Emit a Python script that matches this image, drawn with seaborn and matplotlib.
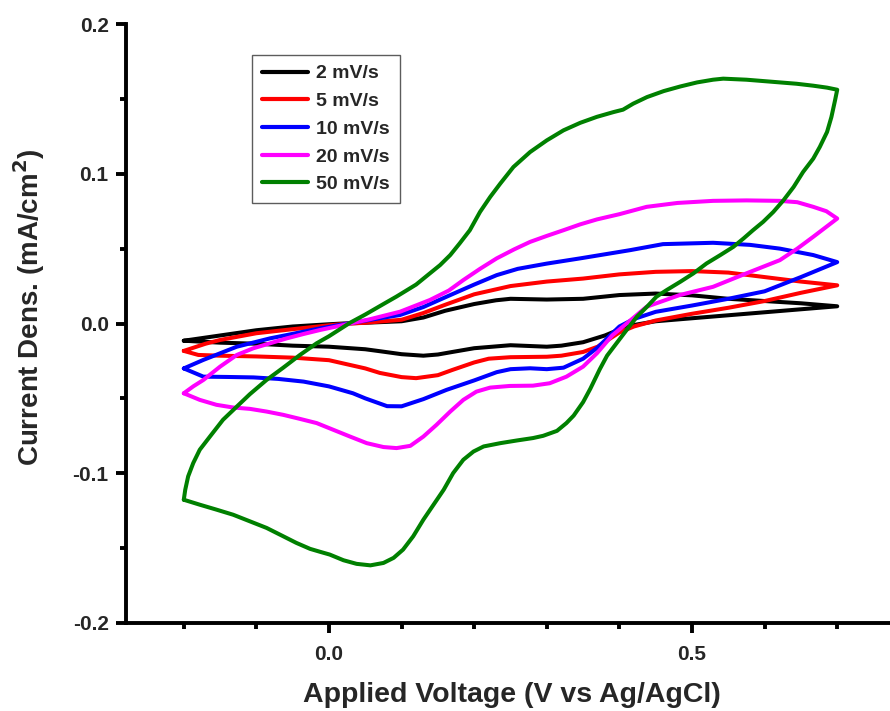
import numpy as np
import pandas as pd
import matplotlib
matplotlib.use("Agg")
import matplotlib.pyplot as plt
from matplotlib.ticker import MultipleLocator, FormatStrFormatter
import seaborn as sns

# Scan rates shown in the legend
rates = ["2 mV/s", "5 mV/s", "10 mV/s", "20 mV/s", "50 mV/s"]
colors = ["#000000", "#ff0000", "#0000ff", "#ff00ff", "#008000"]

# ---- 2 mV/s : anodic sweep (fwd) then cathodic sweep (rev) ----
e2_fwd = [-0.2, -0.15, -0.1, -0.05, 0.0, 0.02, 0.05, 0.1, 0.13, 0.16, 0.2, 0.23, 0.25, 0.3, 0.35, 0.4, 0.45, 0.5, 0.55, 0.6, 0.65, 0.7]
j2_fwd = [-0.0115, -0.008, -0.0045, -0.002, -0.0005, 0.0, 0.0005, 0.0015, 0.004, 0.0085, 0.013, 0.0155, 0.0165, 0.016, 0.0165, 0.019, 0.0200, 0.0188, 0.0165, 0.015, 0.0135, 0.0115]
e2_rev = [0.7, 0.65, 0.6, 0.55, 0.5, 0.45, 0.42, 0.4, 0.38, 0.35, 0.32, 0.3, 0.25, 0.2, 0.17, 0.15, 0.13, 0.1, 0.07, 0.05, 0.0, -0.05, -0.1, -0.15, -0.2]
j2_rev = [0.0115, 0.0095, 0.0075, 0.0055, 0.0035, 0.0015, -0.001, -0.004, -0.008, -0.0125, -0.0148, -0.0155, -0.0145, -0.0165, -0.019, -0.0207, -0.0215, -0.0205, -0.0185, -0.0172, -0.0155, -0.0148, -0.0135, -0.0128, -0.0115]

# ---- 5 mV/s ----
e5_fwd = [-0.2, -0.17, -0.15, -0.1, -0.05, 0.0, 0.02, 0.05, 0.1, 0.13, 0.16, 0.2, 0.25, 0.3, 0.35, 0.4, 0.45, 0.5, 0.55, 0.6, 0.65, 0.7]
j5_fwd = [-0.0183, -0.0135, -0.011, -0.0065, -0.0038, -0.0012, -0.0003, 0.0005, 0.0025, 0.007, 0.0125, 0.0195, 0.025, 0.028, 0.030, 0.0328, 0.0345, 0.035, 0.034, 0.031, 0.028, 0.0255]
e5_rev = [0.7, 0.65, 0.6, 0.55, 0.5, 0.45, 0.42, 0.4, 0.37, 0.35, 0.32, 0.3, 0.25, 0.22, 0.2, 0.17, 0.15, 0.12, 0.1, 0.07, 0.05, 0.0, -0.05, -0.1, -0.15, -0.18, -0.2]
j5_rev = [0.0255, 0.0205, 0.015, 0.0105, 0.0065, 0.002, -0.002, -0.006, -0.0155, -0.019, -0.0215, -0.0222, -0.0225, -0.0235, -0.026, -0.031, -0.0345, -0.0365, -0.0358, -0.033, -0.030, -0.0245, -0.0228, -0.022, -0.0215, -0.021, -0.0183]

# ---- 10 mV/s ----
e10_fwd = [-0.2, -0.173, -0.127, -0.081, -0.058, -0.012, 0.02, 0.07, 0.098, 0.13, 0.162, 0.2, 0.231, 0.26, 0.3, 0.346, 0.415, 0.46, 0.529, 0.58, 0.621, 0.667, 0.7]
j10_fwd = [-0.030, -0.0243, -0.0155, -0.0099, -0.0077, -0.0032, -0.0005, 0.0035, 0.0057, 0.011, 0.0179, 0.026, 0.0323, 0.0365, 0.040, 0.0435, 0.049, 0.0530, 0.0539, 0.0525, 0.050, 0.0457, 0.041]
e10_rev = [0.7, 0.65, 0.6, 0.55, 0.5, 0.45, 0.42, 0.4, 0.37, 0.35, 0.323, 0.3, 0.277, 0.25, 0.231, 0.2, 0.162, 0.13, 0.1, 0.08, 0.05, 0.033, 0.0, -0.035, -0.07, -0.104, -0.14, -0.173, -0.2]
j10_rev = [0.041, 0.031, 0.0215, 0.0165, 0.012, 0.0078, 0.003, -0.002, -0.016, -0.0235, -0.0295, -0.0305, -0.0299, -0.0305, -0.0325, -0.038, -0.0443, -0.0505, -0.0553, -0.0552, -0.050, -0.0466, -0.042, -0.0388, -0.037, -0.036, -0.0357, -0.0355, -0.030]

# ---- 20 mV/s ----
e20_fwd = [-0.2, -0.187, -0.173, -0.15, -0.127, -0.104, -0.081, -0.058, -0.035, -0.012, 0.02, 0.056, 0.098, 0.139, 0.165, 0.185, 0.208, 0.231, 0.255, 0.277, 0.3, 0.323, 0.346, 0.369, 0.4, 0.4375, 0.48, 0.529, 0.575, 0.621, 0.645, 0.667, 0.685, 0.7]
j20_fwd = [-0.0466, -0.042, -0.0377, -0.0288, -0.021, -0.0165, -0.0132, -0.0099, -0.007, -0.0043, -0.001, 0.0028, 0.0079, 0.0157, 0.022, 0.029, 0.0365, 0.0435, 0.0495, 0.0545, 0.0585, 0.0623, 0.0662, 0.0695, 0.073, 0.0779, 0.0805, 0.0819, 0.0822, 0.0819, 0.081, 0.0779, 0.075, 0.0701]
e20_rev = [0.7, 0.667, 0.645, 0.621, 0.575, 0.529, 0.483, 0.4375, 0.41, 0.39, 0.369, 0.35, 0.327, 0.304, 0.281, 0.249, 0.222, 0.203, 0.185, 0.167, 0.148, 0.13, 0.112, 0.093, 0.075, 0.052, 0.029, 0.006, -0.017, -0.04, -0.063, -0.086, -0.109, -0.132, -0.155, -0.178, -0.2]
j20_rev = [0.0701, 0.0579, 0.050, 0.0423, 0.0335, 0.0245, 0.019, 0.0112, 0.0, -0.008, -0.0199, -0.0288, -0.0355, -0.0399, -0.0415, -0.0417, -0.0428, -0.0455, -0.051, -0.0588, -0.0677, -0.0755, -0.0817, -0.0832, -0.0825, -0.0799, -0.0755, -0.071, -0.0665, -0.0637, -0.061, -0.0588, -0.057, -0.0561, -0.0543, -0.051, -0.0466]

# ---- 50 mV/s ----
e50_fwd = [-0.2, -0.198, -0.194, -0.187, -0.178, -0.164, -0.146, -0.127, -0.109, -0.086, -0.063, -0.04, -0.017, 0.0, 0.029, 0.05, 0.075, 0.093, 0.12, 0.139, 0.153, 0.167, 0.18, 0.194, 0.208, 0.222, 0.236, 0.254, 0.277, 0.3, 0.323, 0.346, 0.369, 0.392, 0.405, 0.419, 0.438, 0.461, 0.484, 0.507, 0.529, 0.543, 0.575, 0.598, 0.621, 0.644, 0.667, 0.686, 0.7]
j50_fwd = [-0.1177, -0.111, -0.1021, -0.0932, -0.0843, -0.0755, -0.0643, -0.0555, -0.0472, -0.0377, -0.0295, -0.021, -0.0132, -0.0085, 0.0005, 0.006, 0.013, 0.018, 0.026, 0.0335, 0.039, 0.0457, 0.0535, 0.0623, 0.0745, 0.0845, 0.0935, 0.1045, 0.1145, 0.1223, 0.129, 0.1340, 0.1380, 0.1412, 0.1428, 0.1468, 0.1512, 0.1552, 0.1583, 0.161, 0.1628, 0.1635, 0.1628, 0.1619, 0.161, 0.1601, 0.1588, 0.1575, 0.1561]
e50_rev = [0.7, 0.697, 0.692, 0.686, 0.676, 0.667, 0.653, 0.64, 0.626, 0.612, 0.598, 0.584, 0.571, 0.557, 0.539, 0.52, 0.502, 0.484, 0.465, 0.451, 0.438, 0.424, 0.41, 0.396, 0.383, 0.373, 0.36, 0.35, 0.337, 0.327, 0.314, 0.295, 0.281, 0.259, 0.236, 0.213, 0.199, 0.185, 0.171, 0.158, 0.144, 0.13, 0.116, 0.102, 0.089, 0.075, 0.057, 0.038, 0.02, 0.001, -0.012, -0.026, -0.045, -0.063, -0.086, -0.109, -0.132, -0.155, -0.178, -0.2]
j50_rev = [0.1561, 0.149, 0.1379, 0.1279, 0.1179, 0.1101, 0.1012, 0.0912, 0.0823, 0.0745, 0.0679, 0.0623, 0.0568, 0.0512, 0.0457, 0.0401, 0.0335, 0.0279, 0.0223, 0.0179, 0.0112, 0.0045, -0.0043, -0.0132, -0.0215, -0.0305, -0.0435, -0.0525, -0.0615, -0.0665, -0.0717, -0.075, -0.0765, -0.0781, -0.0799, -0.0821, -0.0855, -0.091, -0.0999, -0.111, -0.121, -0.131, -0.1421, -0.151, -0.1565, -0.1599, -0.1615, -0.1605, -0.1581, -0.1543, -0.1525, -0.1505, -0.1465, -0.1421, -0.1365, -0.1321, -0.1277, -0.1243, -0.121, -0.1177]

scans = [
    (e2_fwd + e2_rev, j2_fwd + j2_rev),
    (e5_fwd + e5_rev, j5_fwd + j5_rev),
    (e10_fwd + e10_rev, j10_fwd + j10_rev),
    (e20_fwd + e20_rev, j20_fwd + j20_rev),
    (e50_fwd + e50_rev, j50_fwd + j50_rev),
]

frames = []
for rate, (e, j) in zip(rates, scans):
    frames.append(pd.DataFrame({"E": e, "J": j, "rate": rate}))
df = pd.concat(frames, ignore_index=True)

sns.set_style("ticks")
plt.rcParams["font.family"] = ["Liberation Sans", "DejaVu Sans"]
plt.rcParams["font.weight"] = "bold"
plt.rcParams["axes.labelweight"] = "bold"
plt.rcParams["mathtext.default"] = "bf"

fig = plt.figure(figsize=(8.9, 7.11), dpi=100)
ax = fig.add_axes([126 / 890, 88 / 711, 764 / 890, 599 / 711])

sns.lineplot(data=df, x="E", y="J", hue="rate", hue_order=rates,
             palette=dict(zip(rates, colors)), sort=False, estimator=None,
             linewidth=2.9, ax=ax)
for line in ax.get_lines():
    line.set_solid_joinstyle("round")
    line.set_solid_capstyle("round")

ax.set_xlim(-0.2796, 0.7727)
ax.set_ylim(-0.2, 0.2)
ax.xaxis.set_major_locator(MultipleLocator(0.5))
ax.xaxis.set_minor_locator(MultipleLocator(0.1))
ax.yaxis.set_major_locator(MultipleLocator(0.1))
ax.yaxis.set_minor_locator(MultipleLocator(0.05))
ax.xaxis.set_major_formatter(FormatStrFormatter("%.1f"))
ax.yaxis.set_major_formatter(FormatStrFormatter("%.1f"))

for side in ["top", "right"]:
    ax.spines[side].set_visible(False)
for side in ["left", "bottom"]:
    ax.spines[side].set_linewidth(2.8)
    ax.spines[side].set_color("black")

ax.tick_params(which="major", direction="out", length=7.5, width=2.8,
               labelsize=15, color="black")
ax.tick_params(axis="x", which="major", pad=8)
ax.tick_params(axis="y", which="major", pad=5)
ax.tick_params(which="minor", direction="out", length=4.5, width=2.8, color="black")
for lab in ax.get_xticklabels() + ax.get_yticklabels():
    lab.set_fontweight("bold")

ax.set_xlabel("Applied Voltage (V vs Ag/AgCl)", fontsize=20.5, fontweight="bold")
ax.set_ylabel("Current Dens. (mA/cm$^2$)", fontsize=20, fontweight="bold")
ax.xaxis.set_label_coords(0.505, -0.098)
ax.yaxis.set_label_coords(-0.103, 0.527)

leg = ax.legend(loc="upper left", bbox_to_anchor=((252 - 126) / 764, (623 - 55) / 599),
                borderaxespad=0, frameon=True, fancybox=False, handlelength=2.4,
                handletextpad=0.4, labelspacing=0.52, borderpad=0.5,
                prop={"weight": "bold", "size": 14}, title=None)
leg.get_frame().set_edgecolor("#333333")
leg.get_frame().set_linewidth(1.0)
for line in leg.get_lines():
    line.set_linewidth(3.0)

fig.savefig("out.png", dpi=100)
